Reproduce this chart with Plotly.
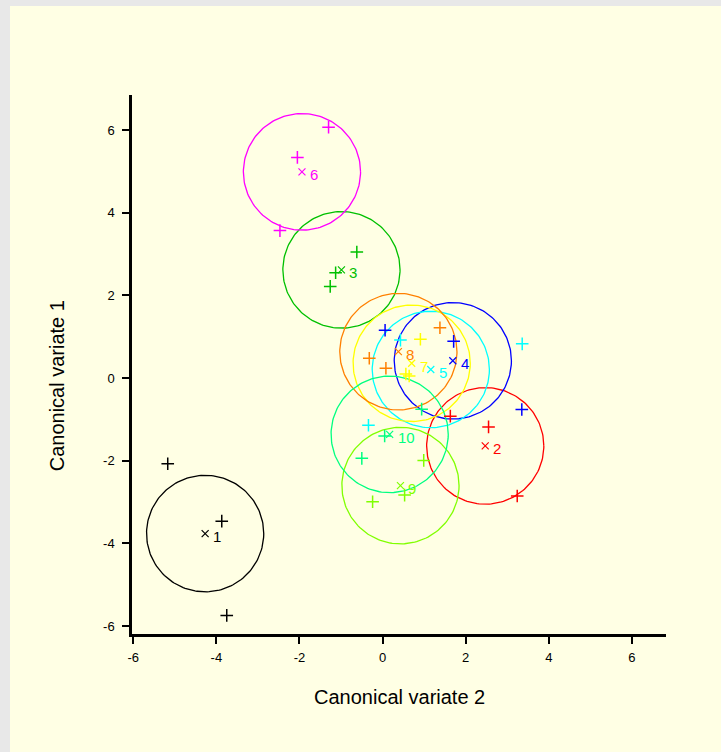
import numpy as np
import plotly.graph_objects as go

# ---- data ----
groups = ["1", "2", "3", "4", "5", "6", "7", "8", "9", "10"]
colors = ["#000000", "#FF0000", "#00C000", "#0000FF", "#00FFFF",
          "#FF00FF", "#FFFF00", "#FF8000", "#80FF00", "#00FF80"]

# individual observations (canonical variate 2 = x, canonical variate 1 = y)
obs_x = {
    "1": [-5.17, -3.87, -3.75],
    "2": [1.63, 2.55, 3.24],
    "3": [-0.62, -1.13, -1.26],
    "4": [0.06, 1.71, 3.35],
    "5": [0.43, 3.36, -0.34],
    "6": [-1.30, -2.05, -2.47],
    "7": [0.91, 0.56, 0.64],
    "8": [1.38, -0.32, 0.08],
    "9": [0.99, 0.53, -0.24],
    "10": [0.94, 0.05, -0.50],
}
obs_y = {
    "1": [-2.07, -3.46, -5.74],
    "2": [-0.92, -1.18, -2.85],
    "3": [3.05, 2.55, 2.22],
    "4": [1.16, 0.89, -0.76],
    "5": [0.92, 0.83, -1.14],
    "6": [6.07, 5.34, 3.57],
    "7": [0.94, 0.10, 0.05],
    "8": [1.22, 0.48, 0.24],
    "9": [-1.99, -2.83, -2.99],
    "10": [-0.75, -1.40, -1.94],
}
# group means (x marks) and confidence-circle radius
mean_x = [-4.27, 2.47, -0.99, 1.69, 1.16, -1.94, 0.70, 0.38, 0.43, 0.17]
mean_y = [-3.76, -1.64, 2.62, 0.42, 0.21, 4.99, 0.36, 0.64, -2.60, -1.36]
radius = 1.41

x_ticks = [-6, -4, -2, 0, 2, 4, 6]
y_ticks = [-6, -4, -2, 0, 2, 4, 6]

FONT = "Liberation Sans, Arial, sans-serif"

fig = go.Figure()

theta = np.linspace(0, 2 * np.pi, 181)
for i, g in enumerate(groups):
    c = colors[i]
    fig.add_trace(go.Scatter(
        x=mean_x[i] + radius * np.cos(theta),
        y=mean_y[i] + radius * np.sin(theta),
        mode="lines", line=dict(color=c, width=1.3),
        hoverinfo="skip", showlegend=False))
for i, g in enumerate(groups):
    c = colors[i]
    fig.add_trace(go.Scatter(
        x=obs_x[g], y=obs_y[g], mode="markers",
        marker=dict(symbol="cross-thin", size=9, line=dict(color=c, width=1.5)),
        showlegend=False))
    fig.add_trace(go.Scatter(
        x=[mean_x[i]], y=[mean_y[i]], mode="markers",
        marker=dict(symbol="x-thin", size=7, line=dict(color=c, width=1.2)),
        showlegend=False))
    fig.add_annotation(
        x=mean_x[i], y=mean_y[i], text=g, showarrow=False,
        xanchor="left", yanchor="middle", xshift=6, yshift=-3,
        font=dict(family=FONT, size=15, color=c))

# axis titles as annotations for exact placement
fig.add_annotation(text="Canonical variate 2", xref="paper", yref="paper",
                   x=0.5, y=-0.117, xanchor="center", yanchor="middle",
                   showarrow=False,
                   font=dict(family=FONT, size=20, color="black"))
fig.add_annotation(text="Canonical variate 1", xref="paper", yref="paper",
                   x=-0.14, y=0.46, xanchor="center", yanchor="middle",
                   textangle=-90, showarrow=False,
                   font=dict(family=FONT, size=20, color="black"))

# cream panel over a light grey page edge
fig.add_shape(type="rect", xref="paper", yref="paper", layer="below",
              x0=-0.2285, x1=1.2, y0=-0.3, y1=1.165,
              fillcolor="#FFFFE4", line=dict(width=0))

axis_common = dict(showgrid=False, zeroline=False, showline=True,
                   linecolor="black", linewidth=2.5, ticks="outside",
                   ticklen=7, tickwidth=2, tickcolor="black",
                   tickfont=dict(family=FONT, size=13, color="black"))

fig.update_layout(
    width=721, height=752,
    margin=dict(l=132, r=55, t=95, b=118),
    paper_bgcolor="#E8E8E8",
    plot_bgcolor="rgba(0,0,0,0)",
    xaxis=dict(range=[-6.03, 6.82], tickvals=x_ticks, ticktext=[str(v) for v in x_ticks],
               ticklabelstandoff=3, **axis_common),
    yaxis=dict(range=[-6.19, 6.85], tickvals=y_ticks, ticktext=[str(v) for v in y_ticks],
               ticklabelstandoff=5, **axis_common),
    showlegend=False,
)

fig.write_html("out.html",
               config={"displayModeBar": False},
               post_script="document.body.style.margin='0';"
                           "document.body.style.overflow='hidden';"
                           "document.body.style.background='#E8E8E8';")
